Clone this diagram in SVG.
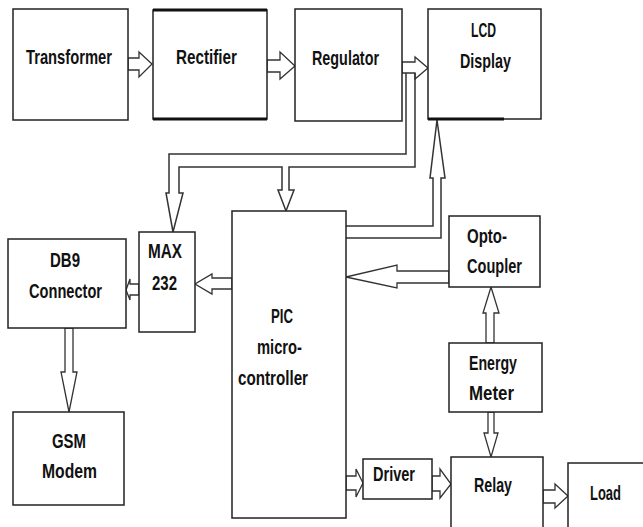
<svg xmlns="http://www.w3.org/2000/svg" width="643" height="527" viewBox="0 0 643 527">
<style>
.box{fill:#fff;stroke:#222;stroke-width:1.5}
.arr{fill:#fff;stroke:#333;stroke-width:1.3;stroke-linejoin:miter}
.pipe{fill:none;stroke:#333;stroke-width:1.5}
.t{font-family:"Liberation Sans",Arial,sans-serif;font-size:21px;font-weight:bold;fill:#111}
.thick{stroke:#111;stroke-width:3}
</style>
<rect width="643" height="527" fill="#fff"/>
<g id="connectors">
<polygon class="arr" points="128,58 139,58 139,52 152,64 139,77 139,70 128,70"/>
<polygon class="arr" points="267,60 280,60 280,52 295,66 280,79 280,72 267,72"/>
<polygon class="arr" points="402,62 415,62 415,57 428,68 415,79 415,73 402,73"/>
<polyline class="pipe" points="406,73 406,154 169,154 169,193 166,193 173,232 183,193 179,193 179,167 282,167 282,190 278,190 286,211 294,190 289,190 289,167 415,167 415,73"/>
<polyline class="pipe" points="346,226 433,226 433,178 430,178 437,120 445,178 441,178 441,238 346,238"/>
<polygon class="arr" points="232,278 212,278 212,274 195,284 212,294 212,289 232,289"/>
<polygon class="arr" points="139,284 130,284 130,279 126,290 130,300 130,295 139,295"/>
<polygon class="arr" points="65,328 65,372 61,372 69,412 77,372 73,372 73,328"/>
<polygon class="arr" points="449,271 397,271 397,265 346,277 397,288 397,283 449,283"/>
<polygon class="arr" points="486,343 486,313 483,313 491,287 499,313 494,313 494,343"/>
<polygon class="arr" points="488,412 488,433 484,433 491,457 498,433 494,433 494,412"/>
<polygon class="arr" points="346,476 356,476 356,469 363,483 356,497 356,490 346,490"/>
<polygon class="arr" points="432,476 440,476 440,469 451,484 440,498 440,491 432,491"/>
<polygon class="arr" points="543,490 555,490 555,484 568,496 555,508 555,503 543,503"/>
</g>
<g id="transformer"><rect class="box" x="13" y="9" width="115" height="111"/><text class="t" x="26" y="64" textLength="86" lengthAdjust="spacingAndGlyphs">Transformer</text></g>
<g id="rectifier"><rect class="box" x="153" y="10" width="114" height="109"/><line class="thick" x1="153" y1="10" x2="267" y2="10"/><line class="thick" x1="153" y1="119" x2="267" y2="119"/><text class="t" x="176" y="64" textLength="61" lengthAdjust="spacingAndGlyphs">Rectifier</text></g>
<g id="regulator"><rect class="box" x="295" y="9" width="107" height="112"/><text class="t" x="312" y="65" textLength="67" lengthAdjust="spacingAndGlyphs">Regulator</text></g>
<g id="lcd"><rect class="box" x="428" y="9" width="113" height="110"/><line class="thick" x1="428" y1="119" x2="504" y2="119"/><text class="t" x="471" y="37" textLength="25" lengthAdjust="spacingAndGlyphs">LCD</text><text class="t" x="460" y="68" textLength="51" lengthAdjust="spacingAndGlyphs">Display</text></g>
<g id="pic"><rect class="box" x="232" y="211" width="114" height="307"/><text class="t" x="271" y="323" textLength="22" lengthAdjust="spacingAndGlyphs">PIC</text><text class="t" x="257" y="354" textLength="45" lengthAdjust="spacingAndGlyphs">micro-</text><text class="t" x="238" y="385" textLength="70" lengthAdjust="spacingAndGlyphs">controller</text></g>
<g id="max232"><rect class="box" x="139" y="232" width="56" height="100"/><text class="t" x="148" y="258" textLength="34" lengthAdjust="spacingAndGlyphs">MAX</text><text class="t" x="152" y="290" textLength="25" lengthAdjust="spacingAndGlyphs">232</text></g>
<g id="db9"><rect class="box" x="8" y="239" width="118" height="89"/><text class="t" x="50" y="267" textLength="30" lengthAdjust="spacingAndGlyphs">DB9</text><text class="t" x="29" y="298" textLength="73" lengthAdjust="spacingAndGlyphs">Connector</text></g>
<g id="gsm"><rect class="box" x="13" y="412" width="111" height="93"/><text class="t" x="52" y="448" textLength="34" lengthAdjust="spacingAndGlyphs">GSM</text><text class="t" x="42" y="478" textLength="55" lengthAdjust="spacingAndGlyphs">Modem</text></g>
<g id="opto"><rect class="box" x="449" y="216" width="91" height="71"/><text class="t" x="467" y="243" textLength="40" lengthAdjust="spacingAndGlyphs">Opto-</text><text class="t" x="467" y="273" textLength="55" lengthAdjust="spacingAndGlyphs">Coupler</text></g>
<g id="energy"><rect class="box" x="449" y="343" width="93" height="69"/><text class="t" x="469" y="370" textLength="48" lengthAdjust="spacingAndGlyphs">Energy</text><text class="t" x="469" y="400" textLength="45" lengthAdjust="spacingAndGlyphs">Meter</text></g>
<g id="driver"><rect class="box" x="363" y="459" width="69" height="40"/><text class="t" x="373" y="481" textLength="42" lengthAdjust="spacingAndGlyphs">Driver</text></g>
<g id="relay"><rect class="box" x="451" y="457" width="92" height="80"/><text class="t" x="474" y="492" textLength="38" lengthAdjust="spacingAndGlyphs">Relay</text></g>
<g id="load"><rect class="box" x="568" y="463" width="80" height="70"/><text class="t" x="590" y="500" textLength="31" lengthAdjust="spacingAndGlyphs">Load</text></g>
</svg>
